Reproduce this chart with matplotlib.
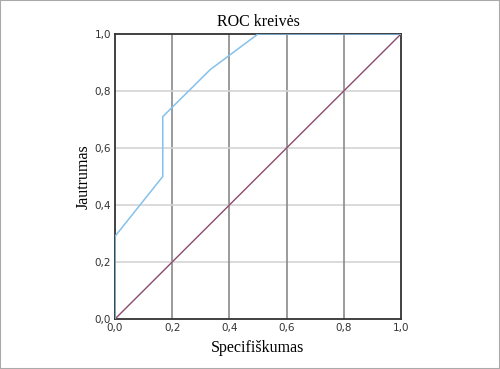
import matplotlib
matplotlib.use("Agg")
import matplotlib.pyplot as plt
from matplotlib.patches import Rectangle

roc_x = [0.0, 0.0, 0.167, 0.167, 0.333, 0.5, 1.0]
roc_y = [0.0, 0.29, 0.5, 0.71, 0.875, 1.0, 1.0]
diag_x = [0.0, 1.0]
diag_y = [0.0, 1.0]
ticks = [0.0, 0.2, 0.4, 0.6, 0.8, 1.0]
tick_labels = ["0,0", "0,2", "0,4", "0,6", "0,8", "1,0"]

fig = plt.figure(figsize=(5, 3.69), dpi=100)
fig.patches.append(Rectangle((0, 0), 1, 1, transform=fig.transFigure,
                             fill=False, edgecolor="#aaaaaa", linewidth=1.5))
ax = fig.add_axes([0.23, 0.1355, 0.572, 0.7724])
ax.set_xlim(0, 1)
ax.set_ylim(0, 1)
for t in ticks[1:-1]:
    ax.axvline(t, color="#8a8a8a", linewidth=1.2, zorder=1)
    ax.axhline(t, color="#d4d4d4", linewidth=1.2, zorder=1)
ax.plot(diag_x, diag_y, color="#8b4a6e", linewidth=1.0, zorder=3)
ax.plot(roc_x, roc_y, color="#84c1ec", linewidth=1.1, zorder=4)
ax.set_xticks(ticks)
ax.set_xticklabels(tick_labels)
ax.set_yticks(ticks)
ax.set_yticklabels(tick_labels)
ax.tick_params(length=0, labelsize=7.5, labelcolor="#333333", pad=3)
for s in ax.spines.values():
    s.set_color("#333333")
    s.set_linewidth(1.3)
serif = ["Liberation Serif", "DejaVu Serif"]
ax.set_title("ROC kreivės", family=serif, fontsize=11.5, pad=6)
ax.set_xlabel("Specifiškumas", family=serif, fontsize=11.5, labelpad=5)
ax.set_ylabel("Jautrumas", family=serif, fontsize=11.5, labelpad=2)
fig.savefig("out.png", dpi=100)
